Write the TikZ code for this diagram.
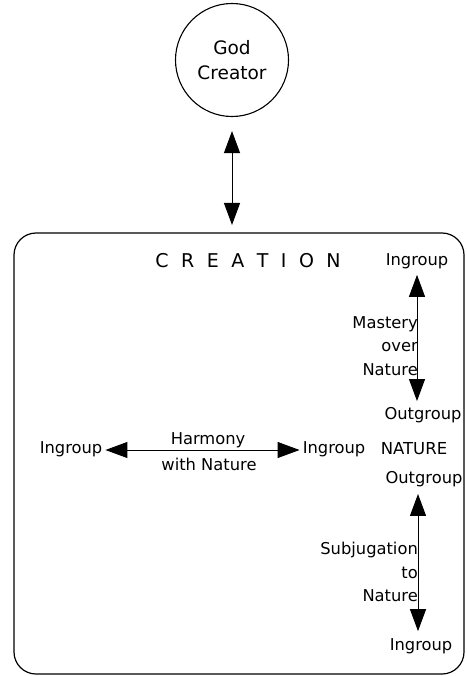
\documentclass[tikz,border=0pt]{standalone}
\usepackage{fontspec}
\setmainfont{DejaVu Sans}
\usepackage{tikz}
\usetikzlibrary{arrows.meta, calc}

\tikzset{
  label/.style={font=\fontsize{16.3}{23.5}\selectfont, inner sep=1pt},
  bigtip/.style={{Triangle[width=16pt,length=22pt]}-{Triangle[width=16pt,length=22pt]}, line width=1pt},
}

\begin{document}
\begin{tikzpicture}[x=1pt, y=-1pt]
        \useasboundingbox (0,0) rectangle (466,676);

        % God at the top
        \node[draw, circle, line width=1.1pt, minimum size=113pt, inner sep=0pt, align=center,
              font=\fontsize{18.5}{25}\selectfont] (god) at (232,60) {\raisebox{-6pt}{God}\\\raisebox{-6pt}{Creator}};

        % Creation box
        \draw[rounded corners=22pt, line width=1.2pt] (14,233) rectangle (464,674);
        \coordinate (creation) at (232,233);
        \node[font=\fontsize{19}{22}\selectfont] (title) at (248,261)
              {C\hspace{12.5pt}R\hspace{12.5pt}E\hspace{12.5pt}A\hspace{12.5pt}T\hspace{12.5pt}I\hspace{12.5pt}O\hspace{12.5pt}N};

        % Link between God and creation
        \draw[bigtip, shorten <=14pt, shorten >=8pt] (god.south) -- (creation);

        % Mastery over nature
        \node[label] (masterIn) at (417,261) {Ingroup};
        \node[label] (masterOut) at (423,415) {Outgroup};
        \draw[bigtip, shorten <=5pt, shorten >=5pt] (masterIn.south) -- (masterIn.south |- masterOut.north);
        \node[label, align=right, anchor=east] (mastery) at (419,346) {Mastery\\over\\Nature};

        % Harmony with nature
        \node[label] (harmonyL) at (71,449) {Ingroup};
        \node[label] (harmonyR) at (334,449) {Ingroup};
        \node[font=\fontsize{16.5}{20}\selectfont] (nature) at (414,449) {NATURE};
        \draw[bigtip, shorten <=2pt, shorten >=2pt] ([yshift=-1pt]harmonyL.east) -- ([yshift=-1pt]harmonyR.west);
        \node[label] (harmony) at (208,440) {Harmony};
        \node[label] (withnat) at (209,464) {with Nature};

        % Subjugation to nature
        \node[label] (subjOut) at (424,479) {Outgroup};
        \node[label] (subjIn) at (421,646) {Ingroup};
        \draw[bigtip, shorten <=6pt, shorten >=6pt] ([xshift=-6pt]subjOut.south) -- ([xshift=-6pt]subjOut.south |- subjIn.north);
        \node[label, align=right, anchor=east] (subjugation) at (419,572) {Subjugation\\to\\Nature};
    \end{tikzpicture}
\end{document}
